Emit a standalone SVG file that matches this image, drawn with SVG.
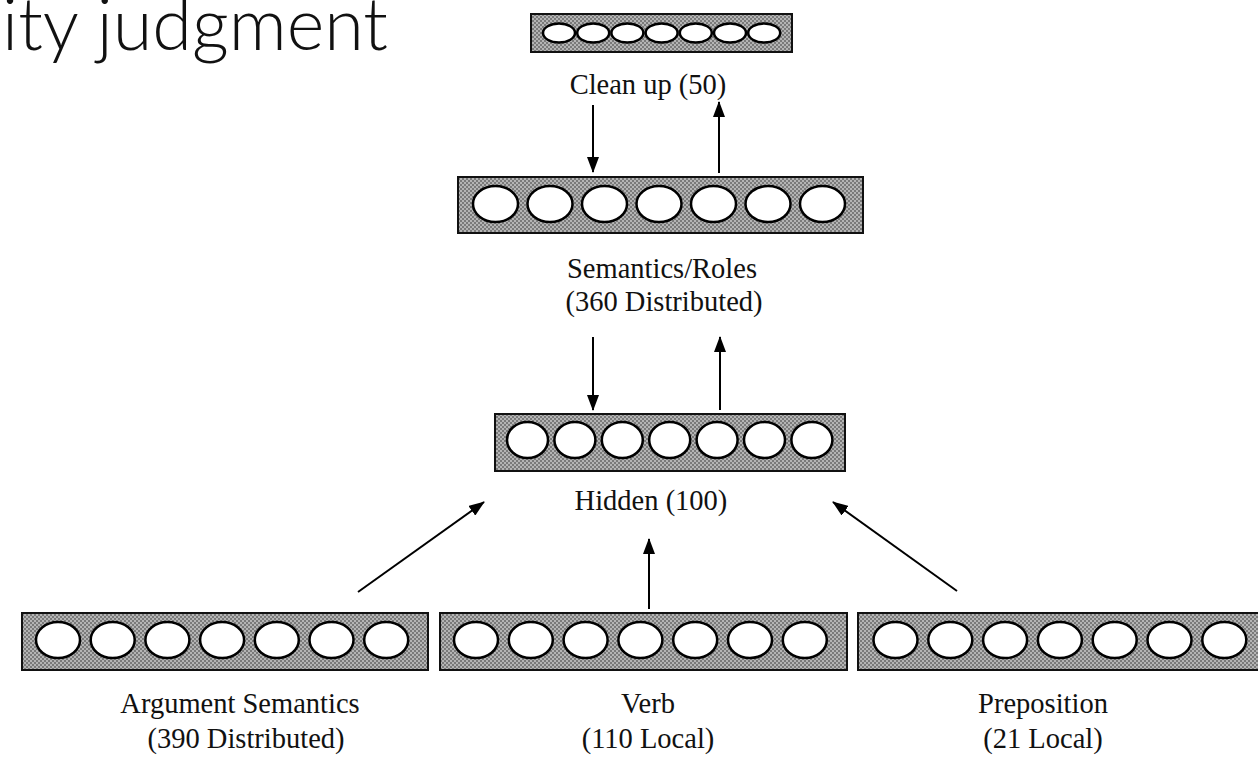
<svg xmlns="http://www.w3.org/2000/svg" width="1258" height="758" viewBox="0 0 1258 758">
<defs>
<pattern id="dither" width="4" height="4" patternUnits="userSpaceOnUse">
<rect width="4" height="4" fill="#b4b4b4"/>
<rect width="2" height="2" fill="#7a7a7a"/>
<rect x="2" y="2" width="2" height="2" fill="#7a7a7a"/>
</pattern>
<marker id="ah" markerWidth="16" markerHeight="12" refX="15" refY="6" orient="auto" markerUnits="userSpaceOnUse">
<path d="M0,0 L16,6 L0,12 Z" fill="#000"/>
</marker>
</defs>
<style>
.box{fill:url(#dither);stroke:#111;stroke-width:2}
.unit{fill:#fff;stroke:#000;stroke-width:2.5}
.lbl{font-family:"Liberation Serif","Times New Roman",serif;font-size:28.5px;fill:#111;text-anchor:middle}
.title{font-family:Lato,"Open Sans",sans-serif;font-size:72px;fill:#111;text-anchor:end;font-weight:300}
.conn line{stroke:#000;stroke-width:2;marker-end:url(#ah)}
</style>
<rect width="1258" height="758" fill="#fff"/>
<text class="title" x="388" y="50">ity judgment</text>

<g id="cleanup">
<rect class="box" x="531" y="14" width="261" height="38"/>
<ellipse class="unit" cx="559" cy="33" rx="16" ry="9.5"/>
<ellipse class="unit" cx="593.2" cy="33" rx="16" ry="9.5"/>
<ellipse class="unit" cx="627.4" cy="33" rx="16" ry="9.5"/>
<ellipse class="unit" cx="661.6" cy="33" rx="16" ry="9.5"/>
<ellipse class="unit" cx="695.8" cy="33" rx="16" ry="9.5"/>
<ellipse class="unit" cx="730" cy="33" rx="16" ry="9.5"/>
<ellipse class="unit" cx="764.2" cy="33" rx="16" ry="9.5"/>
<text class="lbl" x="648" y="94">Clean up (50)</text>
</g>

<g id="semantics">
<rect class="box" x="458" y="177" width="405" height="56"/>
<ellipse class="unit" cx="495.5" cy="204" rx="22.5" ry="18"/>
<ellipse class="unit" cx="550" cy="204" rx="22.5" ry="18"/>
<ellipse class="unit" cx="604.5" cy="204" rx="22.5" ry="18"/>
<ellipse class="unit" cx="659" cy="204" rx="22.5" ry="18"/>
<ellipse class="unit" cx="713.5" cy="204" rx="22.5" ry="18"/>
<ellipse class="unit" cx="768" cy="204" rx="22.5" ry="18"/>
<ellipse class="unit" cx="822.5" cy="204" rx="22.5" ry="18"/>
<text class="lbl" x="662" y="278">Semantics/Roles</text>
<text class="lbl" x="664" y="311">(360 Distributed)</text>
</g>

<g id="hidden">
<rect class="box" x="495" y="414" width="350" height="57"/>
<ellipse class="unit" cx="527.5" cy="440" rx="20.5" ry="18"/>
<ellipse class="unit" cx="574.9" cy="440" rx="20.5" ry="18"/>
<ellipse class="unit" cx="622.3" cy="440" rx="20.5" ry="18"/>
<ellipse class="unit" cx="669.7" cy="440" rx="20.5" ry="18"/>
<ellipse class="unit" cx="717.1" cy="440" rx="20.5" ry="18"/>
<ellipse class="unit" cx="764.5" cy="440" rx="20.5" ry="18"/>
<ellipse class="unit" cx="811.9" cy="440" rx="20.5" ry="18"/>
<text class="lbl" x="651" y="510">Hidden (100)</text>
</g>

<g id="argsem">
<rect class="box" x="22" y="613" width="406" height="57"/>
<ellipse class="unit" cx="58" cy="640" rx="22" ry="18"/>
<ellipse class="unit" cx="112.7" cy="640" rx="22" ry="18"/>
<ellipse class="unit" cx="167.4" cy="640" rx="22" ry="18"/>
<ellipse class="unit" cx="222.1" cy="640" rx="22" ry="18"/>
<ellipse class="unit" cx="276.8" cy="640" rx="22" ry="18"/>
<ellipse class="unit" cx="331.5" cy="640" rx="22" ry="18"/>
<ellipse class="unit" cx="386.2" cy="640" rx="22" ry="18"/>
<text class="lbl" x="240" y="713">Argument Semantics</text>
<text class="lbl" x="246" y="748">(390 Distributed)</text>
</g>

<g id="verb">
<rect class="box" x="440" y="613" width="407" height="57"/>
<ellipse class="unit" cx="476" cy="640" rx="22" ry="18"/>
<ellipse class="unit" cx="530.8" cy="640" rx="22" ry="18"/>
<ellipse class="unit" cx="585.6" cy="640" rx="22" ry="18"/>
<ellipse class="unit" cx="640.4" cy="640" rx="22" ry="18"/>
<ellipse class="unit" cx="695.2" cy="640" rx="22" ry="18"/>
<ellipse class="unit" cx="750" cy="640" rx="22" ry="18"/>
<ellipse class="unit" cx="804.8" cy="640" rx="22" ry="18"/>
<text class="lbl" x="648" y="713">Verb</text>
<text class="lbl" x="648" y="748">(110 Local)</text>
</g>

<g id="preposition">
<rect class="box" x="858" y="613" width="410" height="57"/>
<ellipse class="unit" cx="895.5" cy="640" rx="22" ry="18"/>
<ellipse class="unit" cx="950.3" cy="640" rx="22" ry="18"/>
<ellipse class="unit" cx="1005.1" cy="640" rx="22" ry="18"/>
<ellipse class="unit" cx="1059.9" cy="640" rx="22" ry="18"/>
<ellipse class="unit" cx="1114.7" cy="640" rx="22" ry="18"/>
<ellipse class="unit" cx="1169.5" cy="640" rx="22" ry="18"/>
<ellipse class="unit" cx="1224.3" cy="640" rx="22" ry="18"/>
<text class="lbl" x="1043" y="713">Preposition</text>
<text class="lbl" x="1043" y="748">(21 Local)</text>
</g>

<g class="conn" id="connectors">
<line x1="593" y1="105" x2="593" y2="172"/>
<line x1="719" y1="173" x2="719" y2="102"/>
<line x1="593" y1="337" x2="593" y2="410"/>
<line x1="720" y1="410" x2="720" y2="337"/>
<line x1="358" y1="592" x2="484" y2="502"/>
<line x1="649" y1="609" x2="649" y2="539"/>
<line x1="957" y1="591" x2="833" y2="502"/>
</g>
</svg>
